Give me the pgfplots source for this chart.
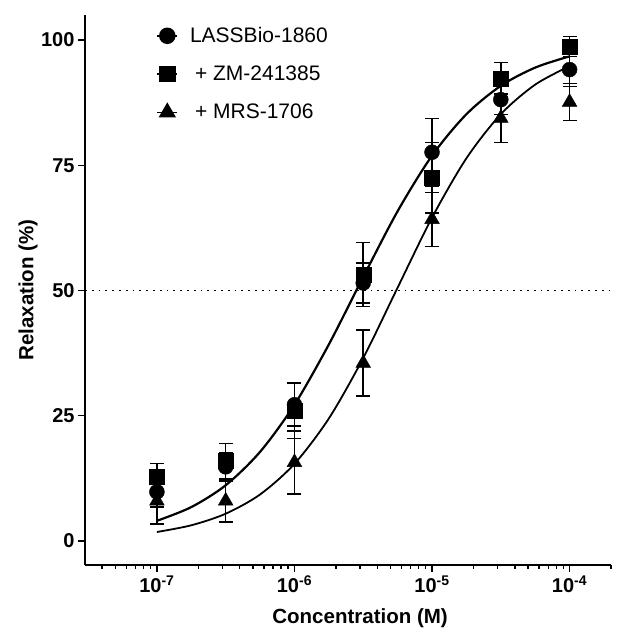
\documentclass[border=0pt]{standalone}
\usepackage{fontspec}
\setmainfont{Liberation Sans}
\usepackage{pgfplots}
\usepackage{pgfplotstable}
\pgfplotsset{compat=1.18}
\usetikzlibrary{calc}

% concentration, mean relaxation, error
\pgfplotstableread{
x y e
1e-7 9.8 3.0
3.162e-7 14.8 2.8
1e-6 27.2 4.3
3.162e-6 51.5 4.0
1e-5 77.6 6.7
3.162e-5 88.1 3.0
1e-4 94.1 3.4
}\lassbio
\pgfplotstableread{
x y e
1e-7 12.8 2.7
3.162e-7 16.0 3.5
1e-6 26.0 5.5
3.162e-6 53.2 6.4
1e-5 72.5 7.0
3.162e-5 92.3 3.2
1e-4 98.7 2.0
}\zm
\pgfplotstableread{
x y e
1e-7 8.0 4.6
3.162e-7 8.0 4.2
1e-6 15.7 6.3
3.162e-6 35.5 6.6
1e-5 64.2 5.4
3.162e-5 84.4 4.9
1e-4 87.6 3.7
}\mrs

\begin{document}
\begin{tikzpicture}
\begin{axis}[
  scale only axis, width=526bp, height=550bp,
  xmode=log, xmin=3e-8, xmax=2e-4, ymin=-4.8, ymax=105,
  axis x line*=bottom, axis y line*=left,
  axis line style={line width=2bp, -},
  tick align=outside, major tick length=7bp, minor tick length=4bp,
  every tick/.style={black, line width=1.5bp},
  xtick={1e-7,1e-6,1e-5,1e-4},
  xticklabels={10\textsuperscript{-7},10\textsuperscript{-6},10\textsuperscript{-5},10\textsuperscript{-4}},
  minor xtick={4e-8,5e-8,6e-8,7e-8,8e-8,9e-8,
    2e-7,3e-7,4e-7,5e-7,6e-7,7e-7,8e-7,9e-7,
    2e-6,3e-6,4e-6,5e-6,6e-6,7e-6,8e-6,9e-6,
    2e-5,3e-5,4e-5,5e-5,6e-5,7e-5,8e-5,9e-5,2e-4},
  ytick={0,25,50,75,100}, yticklabels={0,25,50,75,100},
  tick label style={font=\bfseries\fontsize{20bp}{20bp}\selectfont},
  xlabel={Concentration (M)}, ylabel={Relaxation (\%)},
  label style={font=\bfseries\fontsize{20.5bp}{20.5bp}\selectfont},
  xlabel style={at={(axis description cs:0.523,-0.096)}, anchor=center},
  ylabel style={at={(axis description cs:-0.108,0.5)}, anchor=center},
  legend style={at={(axis description cs:0.13,0.985)}, anchor=north west,
    draw=none, fill=none, row sep=18bp,
    font=\fontsize{21bp}{21bp}\selectfont},
  legend cell align=left,
  legend image code/.code={\draw[mark repeat=2,mark phase=2,#1]
    plot coordinates {(0bp,0bp) (10bp,0bp) (20bp,0bp)};},
  error bars/y dir=both, error bars/y explicit,
  error bars/error bar style={line width=1.5bp, black},
  error bars/error mark options={rotate=90, mark size=7bp, line width=1.5bp, black},
]
\addlegendimage{black, line width=1.5bp, mark=*, mark size=7.5bp}
\addlegendentry{\hspace{10bp}LASSBio-1860}
\addlegendimage{black, line width=1.5bp, mark=square*, mark size=7.5bp}
\addlegendentry{\hspace{15bp}+ ZM-241385}
\addlegendimage{black, line width=1.5bp, mark=triangle*, mark size=8.5bp}
\addlegendentry{\hspace{15bp}+ MRS-1706}

\addplot[black, line width=1.8bp, dash pattern=on 1.8bp off 5bp, forget plot]
  coordinates {(3e-8,50) (2e-4,50)};

% fitted curves
\addplot[black, line width=2.2bp, smooth, forget plot] coordinates {
(1e-7,4.02) (1.778e-7,6.76) (3.162e-7,11.12) (5.623e-7,17.79) (1e-6,27.20)
(1.778e-6,39.23) (3.162e-6,52.71) (5.623e-6,65.83) (1e-5,76.92)
(1.778e-5,85.19) (3.162e-5,90.86) (5.623e-5,94.50) (1e-4,96.74)};
\addplot[black, line width=1.8bp, smooth, forget plot] coordinates {
(1e-7,1.79) (1.778e-7,3.13) (3.162e-7,5.44) (5.623e-7,9.28) (1e-6,15.40)
(1.778e-6,24.45) (3.162e-6,36.52) (5.623e-6,50.58) (1e-5,64.54)
(1.778e-5,76.39) (3.162e-5,85.19) (5.623e-5,91.10) (1e-4,94.79)};

\addplot[black, only marks, mark=*, mark size=7.5bp, forget plot]
  table[x=x, y=y, y error=e] {\lassbio};
\addplot[black, only marks, mark=square*, mark size=7.5bp, forget plot]
  table[x=x, y=y, y error=e] {\zm};
\addplot[black, only marks, mark=triangle*, mark size=8.5bp, forget plot]
  table[x=x, y=y, y error=e] {\mrs};
\end{axis}
\pgfresetboundingbox
\path ($(current axis.south west)+(-85bp,-70bp)$) rectangle ($(current axis.north east)+(19bp,15bp)$);
\end{tikzpicture}
\end{document}
